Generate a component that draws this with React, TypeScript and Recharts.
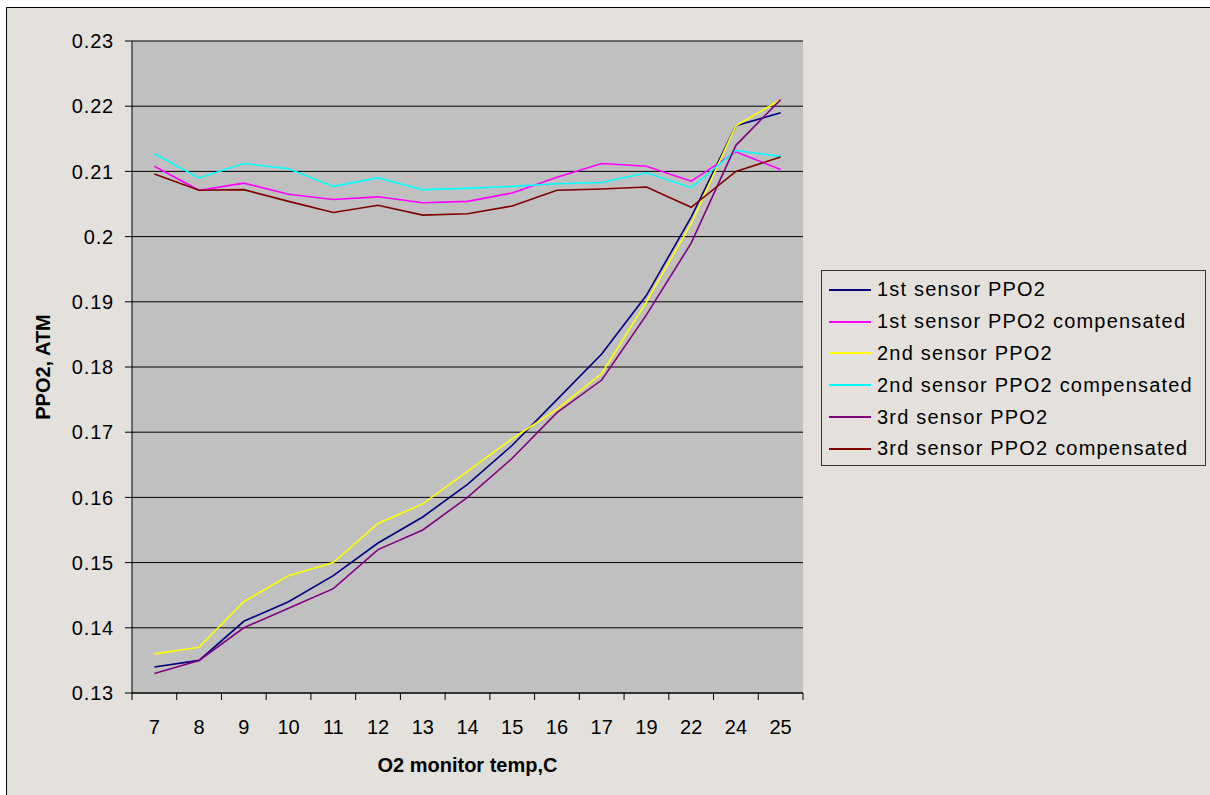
import { LineChart, Line, XAxis, YAxis, CartesianGrid, Legend } from "recharts";

const temps = ["7", "8", "9", "10", "11", "12", "13", "14", "15", "16", "17", "19", "22", "24", "25"];

const sensor1 = [0.134, 0.135, 0.141, 0.144, 0.148, 0.153, 0.157, 0.162, 0.168, 0.175, 0.182, 0.191, 0.203, 0.217, 0.219];
const sensor1Comp = [0.2108, 0.2071, 0.2082, 0.2065, 0.2057, 0.2061, 0.2052, 0.2054, 0.2067, 0.2091, 0.2112, 0.2108, 0.2085, 0.213, 0.2103];
const sensor2 = [0.136, 0.137, 0.144, 0.148, 0.15, 0.156, 0.159, 0.164, 0.169, 0.1735, 0.179, 0.19, 0.202, 0.217, 0.221];
const sensor2Comp = [0.2127, 0.209, 0.2112, 0.2104, 0.2077, 0.209, 0.2072, 0.2074, 0.2077, 0.2081, 0.2083, 0.2098, 0.2075, 0.2132, 0.2123];
const sensor3 = [0.133, 0.135, 0.14, 0.143, 0.146, 0.152, 0.155, 0.16, 0.166, 0.173, 0.178, 0.188, 0.199, 0.214, 0.221];
const sensor3Comp = [0.2096, 0.2071, 0.2072, 0.2054, 0.2037, 0.2048, 0.2033, 0.2035, 0.2047, 0.2071, 0.2073, 0.2076, 0.2045, 0.21, 0.2122];

const yTicks = [0.13, 0.14, 0.15, 0.16, 0.17, 0.18, 0.19, 0.2, 0.21, 0.22, 0.23];

const series = [
  { key: "s1", name: "1st sensor PPO2", color: "#000080", values: sensor1 },
  { key: "s1c", name: "1st sensor PPO2 compensated", color: "#FF00FF", values: sensor1Comp },
  { key: "s2", name: "2nd sensor PPO2", color: "#FFFF00", values: sensor2 },
  { key: "s2c", name: "2nd sensor PPO2 compensated", color: "#00FFFF", values: sensor2Comp },
  { key: "s3", name: "3rd sensor PPO2", color: "#800080", values: sensor3 },
  { key: "s3c", name: "3rd sensor PPO2 compensated", color: "#800000", values: sensor3Comp },
];

const data = temps.map((t, i) => {
  const row: Record<string, string | number> = { temp: t };
  series.forEach((s) => (row[s.key] = s.values[i]));
  return row;
});

const FONT = "'Liberation Sans', Arial, sans-serif";
const BG = "#E4E1DD";

// Excel puts the category tick marks between the categories, not under them
function CategoryTick(props: any) {
  const { x, y, payload, index, visibleTicksCount } = props;
  const half = payload?.offset ?? 22.4;
  const last = index === visibleTicksCount - 1;
  return (
    <g>
      <line x1={x - half} x2={x - half} y1={y} y2={y + 7} stroke="#000" />
      {last && <line x1={x + half} x2={x + half} y1={y} y2={y + 7} stroke="#000" />}
      <text x={x} y={y + 27} dy="0.71em" textAnchor="middle" fontSize={20} fill="#000" fontFamily={FONT}>
        {payload.value}
      </text>
    </g>
  );
}

function LegendBox({ payload }: any) {
  return (
    <div
      style={{
        width: 383,
        height: 191,
        border: "1px solid #333",
        background: BG,
        boxSizing: "content-box",
        paddingTop: 3,
        fontFamily: FONT,
      }}
    >
      {(payload || []).map((p: any) => (
        <div key={p.value} style={{ display: "flex", alignItems: "center", height: 31.8 }}>
          <div style={{ width: 42, height: 2, background: p.color, marginLeft: 7, marginRight: 6 }} />
          <span style={{ fontSize: 20, letterSpacing: 1.2, color: "#000", whiteSpace: "nowrap" }}>{p.value}</span>
        </div>
      ))}
    </div>
  );
}

export default function App() {
  return (
    <div style={{ position: "absolute", left: 0, top: 0, width: 1210, height: 795, background: "#fff", overflow: "hidden" }}>
      <div
        style={{
          position: "absolute",
          left: 6,
          top: 7,
          width: 1204,
          height: 788,
          background: BG,
          borderLeft: "1px solid #000",
          borderTop: "1px solid #000",
        }}
      />
      <div style={{ position: "absolute", left: 0, top: 0 }}>
        <LineChart width={1210} height={795} data={data} margin={{ top: 41, right: 407, bottom: 0, left: 0 }}>
          <CartesianGrid yAxisId="l" vertical={false} stroke="#000" fill="#C0C0C0" fillOpacity={1} />
          <XAxis
            dataKey="temp"
            scale="band"
            height={102}
            axisLine={{ stroke: "#000" }}
            tickLine={false}
            tickSize={0}
            tickMargin={0}
            interval={0}
            tick={<CategoryTick />}
            label={{
              content: ({ viewBox }: any) => (
                <text
                  x={viewBox.x + viewBox.width / 2}
                  y={viewBox.y + 79}
                  textAnchor="middle"
                  fontSize={20}
                  fontWeight="bold"
                  fontFamily={FONT}
                  fill="#000"
                >
                  O2 monitor temp,C
                </text>
              ),
            }}
          />
          <YAxis
            yAxisId="l"
            width={132}
            domain={[0.13, 0.23]}
            ticks={yTicks}
            interval={0}
            axisLine={{ stroke: "#000" }}
            tickLine={{ stroke: "#000" }}
            tickSize={7}
            tickMargin={11}
            tick={{ fontSize: 20, fill: "#000", fontFamily: FONT, letterSpacing: 0.8 }}
            label={{
              content: ({ viewBox }: any) => {
                const cx = viewBox.x + 43;
                const cy = viewBox.y + viewBox.height / 2;
                return (
                  <text
                    x={cx}
                    y={cy}
                    transform={`rotate(-90, ${cx}, ${cy})`}
                    textAnchor="middle"
                    dominantBaseline="central"
                    fontSize={20}
                    fontWeight="bold"
                    fontFamily={FONT}
                    fill="#000"
                  >
                    PPO2, ATM
                  </text>
                );
              },
            }}
          />
          <YAxis yAxisId="r" orientation="right" width={0} domain={[0.13, 0.23]} tick={false} tickLine={false} axisLine={{ stroke: "#808080", strokeWidth: 2 }} />
          {series.map((s) => (
            <Line
              key={s.key}
              yAxisId="l"
              type="linear"
              dataKey={s.key}
              name={s.name}
              stroke={s.color}
              strokeWidth={1.6}
              dot={false}
              activeDot={false}
              isAnimationActive={false}
            />
          ))}
          <Legend
            layout="vertical"
            align="center"
            verticalAlign="middle"
            content={<LegendBox />}
            wrapperStyle={{ left: 821, top: 270, width: 385, height: 195 }}
          />
        </LineChart>
      </div>
    </div>
  );
}
